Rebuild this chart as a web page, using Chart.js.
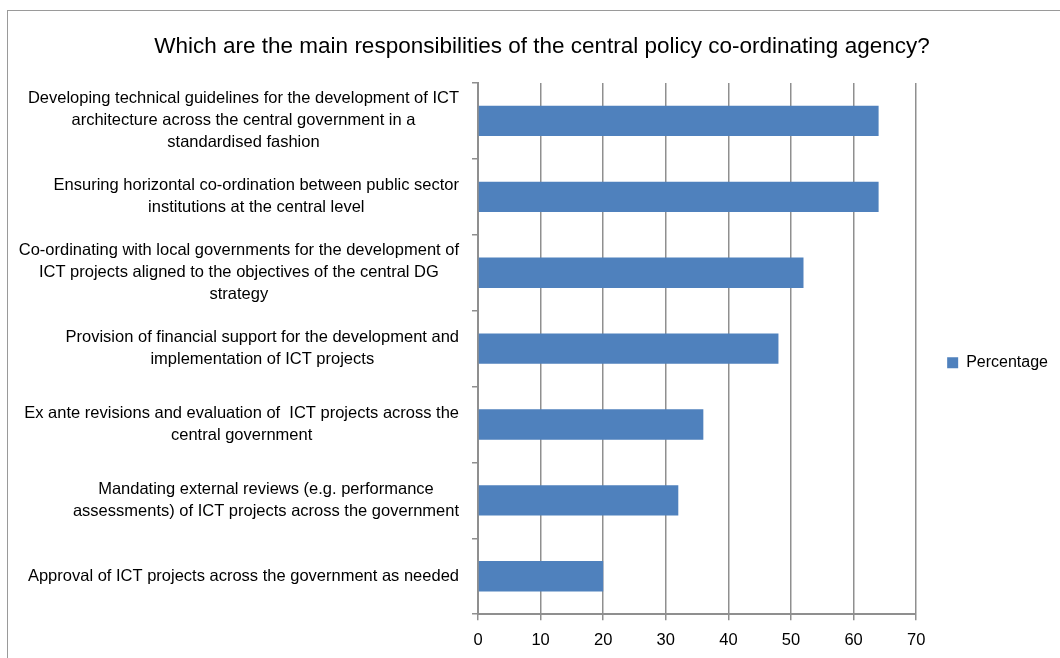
<!DOCTYPE html>
<html>
<head>
<meta charset="utf-8">
<title>Central policy co-ordinating agency responsibilities</title>
<script src="https://cdn.jsdelivr.net/npm/chart.js@4/dist/chart.umd.min.js"></script>
<style>
    html, body { margin: 0; padding: 0; background: #ffffff; }
    #wrap { position: relative; width: 1060px; height: 658px; overflow: hidden; }
    #frame {
        position: absolute; left: 7px; top: 10px; width: 1100px; height: 700px;
        border: 1px solid #9a9a9a; box-sizing: border-box;
    }
    #chart { position: absolute; left: 0; top: 0; }
</style>
</head>
<body>
<div id="wrap">
    <div id="frame"></div>
    <canvas id="chart" width="1060" height="658"></canvas>
</div>
<script>
// ========================================
// Responsibilities of the central agency
// ========================================

const chartTitle = 'Which are the main responsibilities of the central policy co-ordinating agency?';

// Category labels, one array of lines per bar (top to bottom)
const categories = [
    ['Developing technical guidelines for the development of ICT', 'architecture across the central government in a', 'standardised fashion'],
    ['Ensuring horizontal co-ordination between public sector', 'institutions at the central level'],
    ['Co-ordinating with local governments for the development of', 'ICT projects aligned to the objectives of the central DG', 'strategy'],
    ['Provision of financial support for the development and', 'implementation of ICT projects'],
    ['Ex ante revisions and evaluation of  ICT projects across the', 'central government'],
    ['Mandating external reviews (e.g. performance', 'assessments) of ICT projects across the government'],
    ['Approval of ICT projects across the government as needed']
];

const seriesName = 'Percentage';
const percentages = [64, 64, 52, 48, 36, 32, 20];

const xTicks = [0, 10, 20, 30, 40, 50, 60, 70];

const FONT = '"Liberation Sans", Arial, sans-serif';
const GRID = '#8f8f8f';
const BAR = '#4f81bd';

/**
 * Draws the multi-line category labels: the block sits right-aligned
 * next to the axis, each line centred within its own block.
 */
const centredLabels = {
    id: 'centredLabels',
    afterDraw(chart) {
        const scale = chart.scales.y;
        const ctx = chart.ctx;
        const lineH = 22;
        const right = scale.right - 19;
        ctx.save();
        ctx.font = '16.5px ' + FONT;
        ctx.fillStyle = '#000000';
        ctx.textAlign = 'center';
        ctx.textBaseline = 'middle';
        categories.forEach((lines, i) => {
            const widest = Math.max(...lines.map(l => ctx.measureText(l).width));
            const cx = right - widest / 2;
            const cy = scale.getPixelForTick(i);
            const top = cy - (lines.length - 1) * lineH / 2;
            lines.forEach((line, j) => ctx.fillText(line, cx, top + j * lineH));
        });
        ctx.restore();
    }
};

new Chart(document.getElementById('chart'), {
    type: 'bar',
    data: {
        labels: categories,
        datasets: [{
            label: seriesName,
            data: percentages,
            backgroundColor: BAR,
            borderWidth: 0,
            barPercentage: 0.5,
            categoryPercentage: 0.8
        }]
    },
    options: {
        indexAxis: 'y',
        responsive: false,
        animation: false,
        events: [],
        layout: { padding: { left: 26, right: 2, top: 0, bottom: -3 } },
        plugins: {
            title: {
                display: true,
                text: chartTitle,
                color: '#000000',
                font: { family: FONT, size: 22.5, weight: 'normal' },
                padding: { top: 33.5, bottom: 22.5 }
            },
            legend: {
                position: 'right',
                fullSize: false,
                // empty title block nudges the single entry a bit below centre
                title: {
                    display: true,
                    text: '',
                    font: { family: FONT, size: 12 },
                    padding: { top: 7, bottom: 7 }
                },
                labels: {
                    boxWidth: 11,
                    boxHeight: 11,
                    color: '#000000',
                    font: { family: FONT, size: 16 },
                    padding: 31
                }
            },
            tooltip: { enabled: false }
        },
        scales: {
            x: {
                min: 0,
                max: 70,
                afterBuildTicks(scale) {
                    scale.ticks = xTicks.map(v => ({ value: v }));
                },
                grid: { color: GRID, lineWidth: 1.5, tickLength: 6 },
                border: { color: GRID, width: 2 },
                ticks: {
                    color: '#000000',
                    font: { family: FONT, size: 16.5 },
                    padding: 10.5
                }
            },
            y: {
                // the category text is drawn by centredLabels; reserve its room here
                afterFit(scale) { scale.width = 452; },
                grid: { drawOnChartArea: false, color: GRID, lineWidth: 1.5, tickLength: 6 },
                border: { color: GRID, width: 2 },
                ticks: { display: false }
            }
        }
    },
    plugins: [centredLabels]
});
</script>
</body>
</html>
